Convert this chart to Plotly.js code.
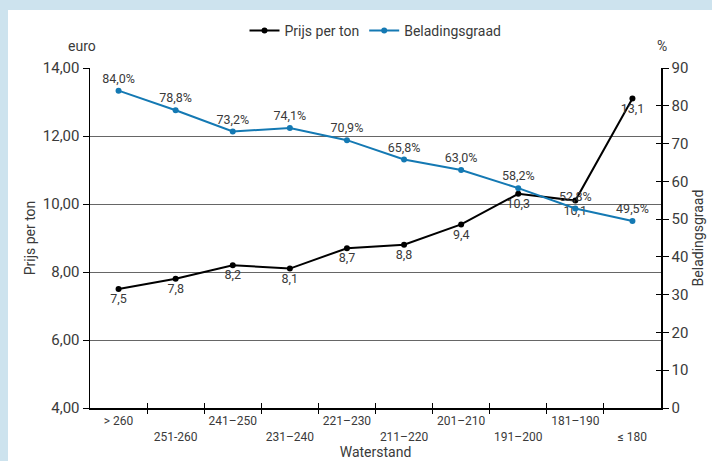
<!DOCTYPE html>
<html><head><meta charset="utf-8">
<script src="https://cdn.plot.ly/plotly-3.0.1.min.js"></script>
<style>
html,body{margin:0;padding:0;background:#cde3ee;width:712px;height:461px;overflow:hidden;}
#chart{position:absolute;left:8px;top:10px;width:704px;height:451px;background:#fff;}
</style></head><body>
<div id="chart"></div>
<script>
const categories = ["> 260","251-260","241–250","231–240","221–230","211–220","201–210","191–200","181–190","≤ 180"];
const prijs = [7.5,7.8,8.2,8.1,8.7,8.8,9.4,10.3,10.1,13.1];
const belading = [84.0,78.8,73.2,74.1,70.9,65.8,63.0,58.2,52.8,49.5];
const prijsLabels = prijs.map(v => v.toFixed(1).replace('.', ','));
const beladingLabels = belading.map(v => v.toFixed(1).replace('.', ',') + '%');
const tickText = categories.map((c,i) => i % 2 === 0 ? c : '<br>' + c);
const idx = categories.map((c,i) => i);
const boundaries = categories.slice(1).map((c,i) => i + 0.5);

const FONT = 'Roboto, "Liberation Sans", sans-serif';
const BLUE = '#1479b3';
const TXT = '#3a3a3a';

const traces = [
  {x: idx, y: prijs, name: 'Prijs per ton', type: 'scatter', mode: 'lines+markers+text',
   line: {color: '#000', width: 2}, marker: {color: '#000', size: 6},
   text: prijsLabels, textposition: 'bottom center', textfont: {size: 12.5, color: TXT, family: FONT},
   yaxis: 'y', cliponaxis: false},
  {x: idx, y: belading, name: 'Beladingsgraad', type: 'scatter', mode: 'lines+markers+text',
   line: {color: BLUE, width: 2}, marker: {color: BLUE, size: 6},
   text: beladingLabels, textposition: 'top center', textfont: {size: 12.5, color: TXT, family: FONT},
   yaxis: 'y2', cliponaxis: false},
  {x: idx, y: belading, xaxis: 'x2', yaxis: 'y3', type: 'scatter', mode: 'none',
   showlegend: false, hoverinfo: 'skip'},
  {x: idx, y: prijs, xaxis: 'x3', yaxis: 'y', type: 'scatter', mode: 'none',
   showlegend: false, hoverinfo: 'skip'}
];

const layout = {
  width: 704, height: 451,
  margin: {l: 82, r: 51, t: 58, b: 53, autoexpand: false},
  paper_bgcolor: '#fff', plot_bgcolor: '#fff',
  font: {family: FONT, color: TXT},
  showlegend: true,
  legend: {orientation: 'h', x: 0.5, xanchor: 'center', y: 1.109, yanchor: 'middle',
           font: {size: 14, color: TXT, family: FONT}, tracegroupgap: 0},
  xaxis: {range: [-0.5, 9.5], tickmode: 'array', tickvals: idx, ticktext: tickText, tickangle: 0,
          ticks: '', tickfont: {size: 12, color: TXT}, ticklabelstandoff: 1,
          showline: true, linecolor: '#000', linewidth: 1.5,
          showgrid: false, zeroline: false,
          title: {text: 'Waterstand', font: {size: 14, color: TXT}, standoff: 4}},
  xaxis2: {range: [-0.5, 9.5], overlaying: 'x', anchor: 'y', side: 'bottom', tickmode: 'array',
           tickvals: boundaries, ticks: 'outside', ticklen: 5, tickcolor: '#000', tickwidth: 1,
           showticklabels: false, showline: false, showgrid: false, zeroline: false},
  xaxis3: {range: [-0.5, 9.5], overlaying: 'x', anchor: 'y', side: 'bottom', tickmode: 'array',
           tickvals: boundaries, ticks: 'inside', ticklen: 5, tickcolor: '#000', tickwidth: 1,
           showticklabels: false, showline: false, showgrid: false, zeroline: false},
  yaxis: {range: [4, 14], dtick: 2, tickformat: '.2f',
          ticks: 'outside', ticklen: 6, tickcolor: '#000',
          tickfont: {size: 15, color: TXT}, showline: true, linecolor: '#000', linewidth: 1.5,
          showgrid: true, gridcolor: '#666', gridwidth: 1, zeroline: false,
          title: {text: 'Prijs per ton', font: {size: 14, color: TXT}, standoff: 4}},
  yaxis2: {range: [0, 90], dtick: 10, overlaying: 'y', side: 'right', ticks: 'outside', ticklen: 6,
           tickcolor: '#000', tickfont: {size: 15, color: TXT}, showline: true, linecolor: '#000',
           linewidth: 1.5, showgrid: false, zeroline: false,
           title: {text: 'Beladingsgraad', font: {size: 14, color: TXT}, standoff: 6}},
  yaxis3: {range: [0, 90], dtick: 10, overlaying: 'y', side: 'right', anchor: 'x', ticks: 'inside', ticklen: 5,
           tickcolor: '#000', showticklabels: false, showline: false, showgrid: false, zeroline: false},
  separators: ',.',
  annotations: [
    {text: 'euro', xref: 'paper', yref: 'paper', x: -0.014, y: 1.065, xanchor: 'center', yanchor: 'middle',
     showarrow: false, font: {size: 14, color: TXT}},
    {text: '%', xref: 'paper', yref: 'paper', x: 1.002, y: 1.065, xanchor: 'center', yanchor: 'middle',
     showarrow: false, font: {size: 14, color: TXT}}
  ]
};

Plotly.newPlot('chart', traces, layout, {displayModeBar: false, staticPlot: true});
</script>
</body></html>
